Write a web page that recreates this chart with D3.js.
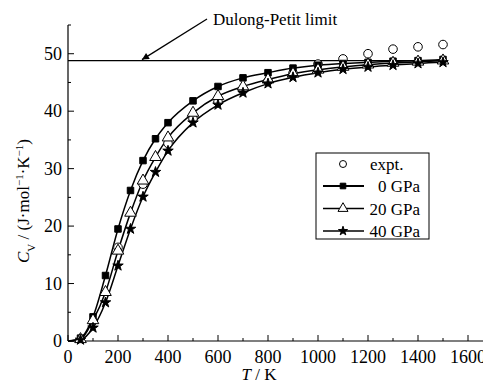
<!DOCTYPE html>
<html>
<head>
<meta charset="utf-8">
<script src="https://cdn.jsdelivr.net/npm/d3@7"></script>
<style>
    body { margin: 0; background: #fff; }
</style>
</head>
<body>
<div id="chart"></div>
<script>
// temperatures (K) of the calculated curves
const temps = [0, 50, 100, 150, 200, 250, 300, 350, 400, 500, 600, 700, 800, 900, 1000, 1100, 1200, 1300, 1400, 1500];
const cv0 = [0, 0.5, 4.2, 11.4, 19.5, 26.2, 31.4, 35.2, 38.0, 41.8, 44.3, 45.8, 46.7, 47.5, 48.0, 48.3, 48.5, 48.7, 48.8, 49.0];
const cv20 = [0, 0.3, 3.6, 8.5, 15.7, 22.3, 27.9, 32.0, 35.4, 39.7, 42.6, 44.3, 45.5, 46.5, 47.2, 47.7, 48.1, 48.4, 48.6, 48.8];
const cv40 = [0, 0.2, 2.3, 6.7, 13.1, 19.5, 25.1, 29.4, 33.1, 38.0, 41.1, 43.2, 44.8, 45.9, 46.7, 47.3, 47.7, 48.0, 48.3, 48.5];

// experimental points
const exptT = [200, 300, 400, 500, 600, 700, 800, 900, 1000, 1100, 1200, 1300, 1400, 1500];
const exptCv = [16.3, 27.3, 34.4, 38.7, 41.6, 43.6, 45.2, 46.6, 48.2, 49.1, 50.0, 50.8, 51.2, 51.6];

const dulongPetit = 48.8;
const xTicks = [0, 200, 400, 600, 800, 1000, 1200, 1400, 1600];
const yTicks = [0, 10, 20, 30, 40, 50];

const width = 483, height = 385;
const serif = "'Liberation Serif', 'DejaVu Serif', serif";

const svg = d3.select("#chart").append("svg")
    .attr("width", width)
    .attr("height", height)
    .style("font-family", serif);

const x = d3.scaleLinear().domain([0, 1660]).range([68, 483]);
const y = d3.scaleLinear().domain([0, 55]).range([341, 25]);

// axes, ticks pointing inward
const xAxis = svg.append("g").attr("transform", "translate(0,341)");
xAxis.append("line").attr("x1", x(0)).attr("x2", x(1660)).attr("stroke", "#000").attr("stroke-width", 1.2);
d3.range(0, 1700, 100).forEach(t => {
    const major = t % 200 === 0;
    xAxis.append("line")
        .attr("x1", x(t)).attr("x2", x(t))
        .attr("y1", 0).attr("y2", major ? -6 : -3)
        .attr("stroke", "#000").attr("stroke-width", 1);
});
xAxis.selectAll(".xl")
    .data(xTicks)
    .enter().append("text")
    .attr("x", d => x(d))
    .attr("y", 22)
    .attr("font-family", serif)
    .style("text-anchor", "middle")
    .style("font-size", "18px")
    .text(d => d);

const yAxis = svg.append("g").attr("transform", "translate(68,0)");
yAxis.append("line").attr("y1", y(0)).attr("y2", y(55)).attr("stroke", "#000").attr("stroke-width", 1.2);
d3.range(0, 56, 5).forEach(v => {
    const major = v % 10 === 0;
    yAxis.append("line")
        .attr("y1", y(v)).attr("y2", y(v))
        .attr("x1", 0).attr("x2", major ? 6 : 3)
        .attr("stroke", "#000").attr("stroke-width", 1);
});
yAxis.selectAll(".yl")
    .data(yTicks)
    .enter().append("text")
    .attr("x", -6)
    .attr("y", d => y(d))
    .attr("dy", "0.35em")
    .attr("font-family", serif)
    .style("text-anchor", "end")
    .style("font-size", "18px")
    .text(d => d);

// axis titles
const xt = svg.append("text")
    .attr("x", 259).attr("y", 380)
    .attr("font-family", serif)
    .style("text-anchor", "middle")
    .style("font-size", "17px");
xt.append("tspan").style("font-style", "italic").text("T");
xt.append("tspan").text(" / K");

const yt = svg.append("text")
    .attr("transform", "translate(29,201) rotate(-90)")
    .attr("font-family", serif)
    .style("text-anchor", "middle")
    .style("font-size", "17px");
yt.append("tspan").style("font-style", "italic").text("C");
yt.append("tspan").attr("baseline-shift", "sub").style("font-size", "11px").text("V");
yt.append("tspan").text(" / (J·mol");
yt.append("tspan").attr("baseline-shift", "super").style("font-size", "11px").text("−1");
yt.append("tspan").text("·K");
yt.append("tspan").attr("baseline-shift", "super").style("font-size", "11px").text("−1");
yt.append("tspan").text(")");

// Dulong-Petit limit
svg.append("line")
    .attr("x1", x(0)).attr("x2", x(1500))
    .attr("y1", y(dulongPetit)).attr("y2", y(dulongPetit))
    .attr("stroke", "#000").attr("stroke-width", 1.2);

svg.append("defs").append("marker")
    .attr("id", "arrow")
    .attr("viewBox", "0 0 10 10")
    .attr("refX", 10).attr("refY", 5)
    .attr("markerWidth", 11).attr("markerHeight", 7)
    .attr("markerUnits", "userSpaceOnUse")
    .attr("orient", "auto")
    .append("path")
    .attr("d", "M0,0L10,5L0,10Z")
    .attr("fill", "#000");

svg.append("line")
    .attr("x1", 207).attr("y1", 19)
    .attr("x2", 142).attr("y2", y(dulongPetit) - 1)
    .attr("stroke", "#000").attr("stroke-width", 1.3)
    .attr("marker-end", "url(#arrow)");

svg.append("text")
    .attr("x", 213).attr("y", 25)
    .attr("font-family", serif)
    .style("font-size", "17px")
    .text("Dulong-Petit limit");

// calculated curves
const series = [
    { name: "0 GPa", values: cv0, symbol: d3.symbolSquare, size: 42, fill: "#000" },
    { name: "20 GPa", values: cv20, symbol: d3.symbolTriangle, size: 58, fill: "#fff" },
    { name: "40 GPa", values: cv40, symbol: d3.symbolStar, size: 34, fill: "#000" }
];

const line = d3.line()
    .x(d => x(d[0]))
    .y(d => y(d[1]))
    .curve(d3.curveMonotoneX);

series.forEach(s => {
    const pts = temps.map((t, i) => [t, s.values[i]]);
    svg.append("path")
        .attr("d", line(pts))
        .attr("fill", "none")
        .attr("stroke", "#000")
        .attr("stroke-width", 1.5);
});

// experimental circles
svg.selectAll(".expt")
    .data(exptT.map((t, i) => [t, exptCv[i]]))
    .enter().append("circle")
    .attr("cx", d => x(d[0]))
    .attr("cy", d => y(d[1]))
    .attr("r", 4.3)
    .attr("fill", "#fff")
    .attr("stroke", "#000")
    .attr("stroke-width", 1);

series.forEach(s => {
    const pts = temps.map((t, i) => [t, s.values[i]]).filter(d => d[0] > 0);
    svg.selectAll(null)
        .data(pts)
        .enter().append("path")
        .attr("transform", d => `translate(${x(d[0])},${y(d[1])})`)
        .attr("d", d3.symbol().type(s.symbol).size(s.size))
        .attr("fill", s.fill)
        .attr("stroke", "#000")
        .attr("stroke-width", 1);
});

// legend
const legend = svg.append("g");
legend.append("rect")
    .attr("x", 316).attr("y", 153)
    .attr("width", 113).attr("height", 86)
    .attr("fill", "#fff")
    .attr("stroke", "#000")
    .attr("stroke-width", 1);

legend.append("circle")
    .attr("cx", 343).attr("cy", 164).attr("r", 3.5)
    .attr("fill", "#fff").attr("stroke", "#000");
legend.append("text")
    .attr("x", 370).attr("y", 170)
    .attr("font-family", serif)
    .style("font-size", "17px")
    .text("expt.");

series.forEach((s, i) => {
    const ly = 186 + i * 22.5;
    legend.append("line")
        .attr("x1", 323).attr("x2", 364)
        .attr("y1", ly).attr("y2", ly)
        .attr("stroke", "#000")
        .attr("stroke-width", i === 0 ? 2 : 1.5);
    legend.append("path")
        .attr("transform", `translate(343,${ly})`)
        .attr("d", d3.symbol().type(s.symbol).size(s.size * 0.75))
        .attr("fill", s.fill)
        .attr("stroke", "#000")
        .attr("stroke-width", 1);
    legend.append("text")
        .attr("x", 420).attr("y", ly + 6)
        .attr("font-family", serif)
        .style("text-anchor", "end")
        .style("font-size", "17px")
        .text(s.name);
});
</script>
</body>
</html>
